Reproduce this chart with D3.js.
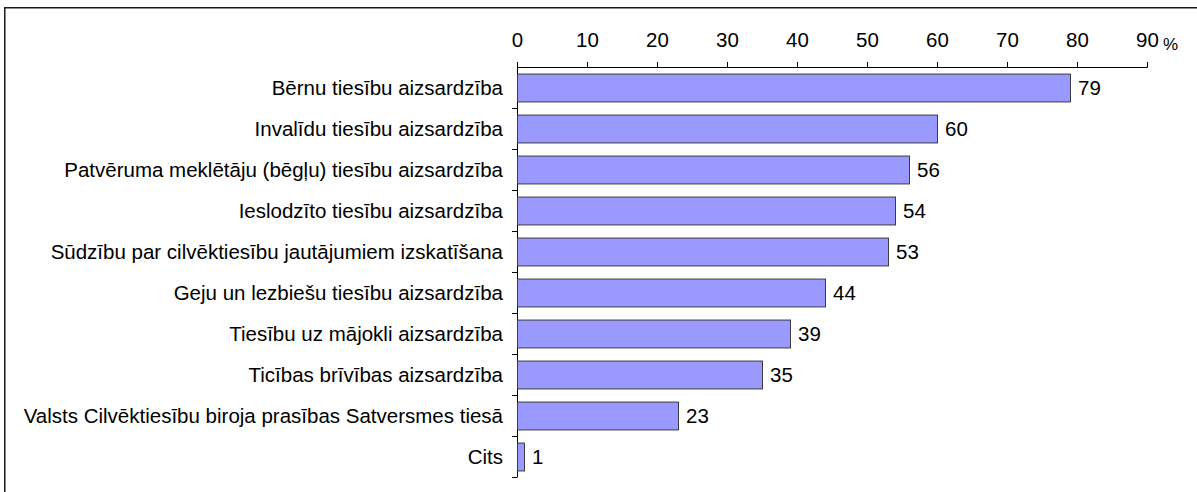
<!DOCTYPE html>
<html>
<head>
<meta charset="utf-8">
<script src="https://cdn.jsdelivr.net/npm/d3@7"></script>
<style>
  html, body { margin: 0; padding: 0; background: #fff; }
  svg { display: block; font-family: "Liberation Sans", Arial, sans-serif; }
</style>
</head>
<body>
<svg id="chart" width="1197" height="492"></svg>
<script>
// Survey shares (%) by area of activity
const categories = [
  "Bērnu tiesību aizsardzība",
  "Invalīdu tiesību aizsardzība",
  "Patvēruma meklētāju (bēgļu) tiesību aizsardzība",
  "Ieslodzīto tiesību aizsardzība",
  "Sūdzību par cilvēktiesību jautājumiem izskatīšana",
  "Geju un lezbiešu tiesību aizsardzība",
  "Tiesību uz mājokli aizsardzība",
  "Ticības brīvības aizsardzība",
  "Valsts Cilvēktiesību biroja prasības Satversmes tiesā",
  "Cits"
];
const values = [79, 60, 56, 54, 53, 44, 39, 35, 23, 1];
const xTicks = [0, 10, 20, 30, 40, 50, 60, 70, 80, 90];
const unitLabel = "%";

const FS = 20.5;
const FONT = "Liberation Sans, Arial, sans-serif";

const svg = d3.select("#chart");

// outer frame
svg.append("rect")
  .attr("x", 4.75).attr("y", 7.75)
  .attr("width", 1300).attr("height", 600)
  .attr("fill", "none").attr("stroke", "#1a1a1a").attr("stroke-width", 1.5);

const x0 = 517, x1 = 1147, yTop = 67, yBot = 477;

const x = d3.scaleLinear().domain([0, 90]).range([x0, x1]);
const y = d3.scaleBand().domain(categories).range([yTop, yBot]).paddingInner(0.32).paddingOuter(0.16);

// top value axis
const xAxis = svg.append("g")
  .attr("transform", `translate(0,${yTop})`)
  .call(d3.axisTop(x).tickValues(xTicks).tickSize(5).tickSizeOuter(5).tickPadding(15).tickFormat(d3.format("d")));
xAxis.select(".domain").attr("stroke", "#000");
xAxis.selectAll(".tick line").attr("stroke", "#000");
xAxis.selectAll(".tick text")
  .attr("font-size", FS).attr("fill", "#000")
  .attr("font-family", FONT);

svg.append("text")
  .attr("x", x(90) + 16).attr("y", 50)
  .attr("font-size", 17).attr("fill", "#000")
  .attr("font-family", FONT)
  .text(unitLabel);

// category axis: ticks at band boundaries
const idx = d3.scaleLinear().domain([0, categories.length]).range([yTop, yBot]);
const yAxis = svg.append("g")
  .attr("transform", `translate(${x0},0)`)
  .call(d3.axisLeft(idx).tickValues(d3.range(1, categories.length + 1)).tickSize(5).tickSizeOuter(0).tickFormat(""));
yAxis.select(".domain").attr("stroke", "#000");
yAxis.selectAll(".tick line").attr("stroke", "#000");

// bars
svg.append("g").selectAll("rect")
  .data(values)
  .join("rect")
  .attr("x", x(0) + 0.5)
  .attr("y", (d, i) => y(categories[i]) + 0.5)
  .attr("width", d => x(d) - x(0))
  .attr("height", y.bandwidth())
  .attr("fill", "#9999ff")
  .attr("stroke", "#3c3c3c")
  .attr("stroke-width", 1);

// value labels
svg.append("g").selectAll("text")
  .data(values)
  .join("text")
  .attr("x", d => x(d) + 8)
  .attr("y", (d, i) => y(categories[i]) + y.bandwidth() / 2)
  .attr("dy", "0.35em")
  .attr("font-size", FS).attr("fill", "#000")
  .text(d => d);

// category labels
svg.append("g").selectAll("text")
  .data(categories)
  .join("text")
  .attr("x", x0 - 14)
  .attr("y", d => y(d) + y.bandwidth() / 2)
  .attr("dy", "0.35em")
  .attr("text-anchor", "end")
  .attr("font-size", FS).attr("fill", "#000")
  .text(d => d);
</script>
</body>
</html>
